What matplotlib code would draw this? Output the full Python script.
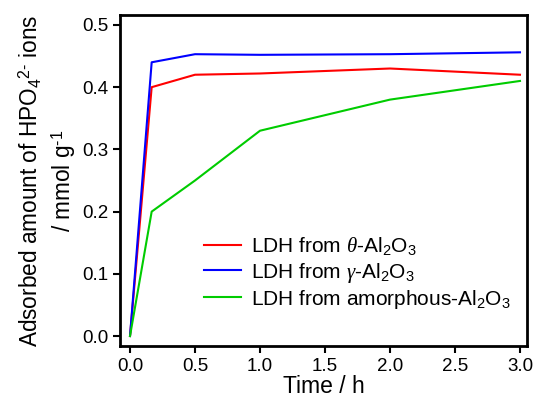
import matplotlib
matplotlib.use('Agg')
import matplotlib.pyplot as plt

plt.rcParams['font.family'] = ['Liberation Sans', 'DejaVu Sans']
plt.rcParams['mathtext.fontset'] = 'custom'
plt.rcParams['mathtext.rm'] = 'Liberation Sans'
plt.rcParams['mathtext.it'] = 'Liberation Serif:italic'

time_h = [0, 1/6, 0.5, 1, 2, 3]
theta = [0, 0.40, 0.42, 0.422, 0.43, 0.42]
gamma = [0, 0.44, 0.453, 0.452, 0.453, 0.456]
amorph = [0, 0.20, 0.25, 0.33, 0.38, 0.41]

fig = plt.figure(figsize=(5.35, 3.99), dpi=100)
ax = fig.add_axes([120/535, 1 - 346/399, 407/535, 331/399])

ax.plot(time_h, theta, color='#ff0000', lw=1.5, label=r'LDH from $\mathit{θ}$-Al$_2$O$_3$')
ax.plot(time_h, gamma, color='#0000ff', lw=1.5, label=r'LDH from $\mathit{γ}$-Al$_2$O$_3$')
ax.plot(time_h, amorph, color='#00cc00', lw=1.5, label=r'LDH from amorphous-Al$_2$O$_3$')

ax.set_xlim(-0.077, 3.054)
ax.set_ylim(-0.016, 0.516)
ax.set_xticks([0, 0.5, 1, 1.5, 2, 2.5, 3])
ax.set_yticks([0, 0.1, 0.2, 0.3, 0.4, 0.5])
ax.xaxis.set_major_formatter(matplotlib.ticker.FormatStrFormatter('%.1f'))
ax.yaxis.set_major_formatter(matplotlib.ticker.FormatStrFormatter('%.1f'))
for s in ax.spines.values():
    s.set_linewidth(2)
ax.tick_params(direction='out', width=1.5, length=5, labelsize=13.5)

ax.set_xlabel('Time / h', fontsize=16.5, labelpad=0)
ax.set_ylabel(r'Adsorbed amount of HPO$_4$$^{2\text{-}}$ ions' + '\n' + r'/ mmol g$^{\text{-}1}$',
              fontsize=16.3, linespacing=1.25, labelpad=3)

ax.legend(loc='lower left', bbox_to_anchor=(0.16, 0.05), frameon=False, fontsize=15,
          handlelength=1.8, handletextpad=0.45, labelspacing=0.15)

fig.savefig('out.png', dpi=100)
